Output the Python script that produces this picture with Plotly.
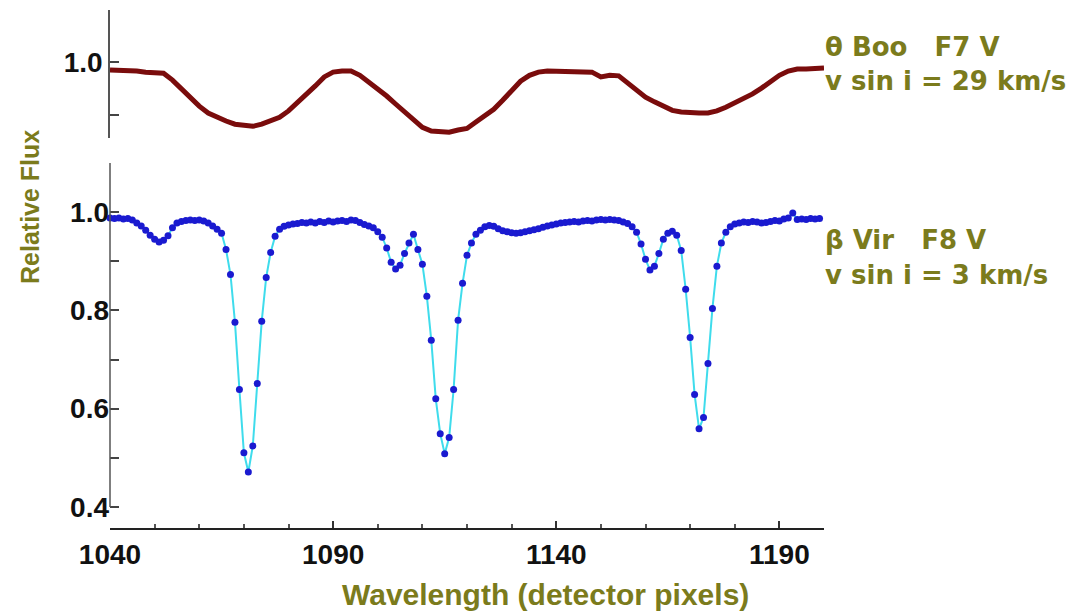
import plotly.graph_objects as go

# ---------------- data ----------------
# theta Boo (F7 V, v sin i = 29 km/s), every 2 detector pixels
boo_x = list(range(1040, 1201, 2))
boo_flux = [
    0.985, 0.985, 0.983, 0.983, 0.981, 0.981, 0.979, 0.966, 0.949, 0.932,
    0.917, 0.904, 0.896, 0.889, 0.883, 0.881, 0.879, 0.883, 0.889, 0.896,
    0.908, 0.923, 0.940, 0.955, 0.972, 0.981, 0.983, 0.983, 0.975, 0.962,
    0.951, 0.936, 0.921, 0.906, 0.891, 0.877, 0.870, 0.870, 0.868, 0.872,
    0.875, 0.887, 0.898, 0.911, 0.928, 0.947, 0.964, 0.975, 0.981, 0.983,
    0.983, 0.981, 0.983, 0.981, 0.981, 0.972, 0.975, 0.974, 0.960, 0.947,
    0.934, 0.925, 0.917, 0.909, 0.906, 0.904, 0.904, 0.904, 0.908, 0.915,
    0.923, 0.930, 0.940, 0.951, 0.964, 0.975, 0.983, 0.987, 0.987, 0.989,
    0.989,
]

# beta Vir (F8 V, v sin i = 3 km/s), every detector pixel
vir_x = list(range(1040, 1200))
vir_flux = [
    0.988, 0.987, 0.988, 0.986, 0.987, 0.984, 0.978, 0.972, 0.963, 0.953,  # 1040
    0.945, 0.939, 0.943, 0.952, 0.968, 0.978, 0.981, 0.983, 0.984, 0.983,  # 1050
    0.984, 0.982, 0.978, 0.972, 0.965, 0.957, 0.924, 0.873, 0.776, 0.639,  # 1060
    0.510, 0.471, 0.524, 0.651, 0.778, 0.867, 0.918, 0.951, 0.965, 0.971,  # 1070
    0.974, 0.976, 0.977, 0.979, 0.978, 0.980, 0.978, 0.981, 0.979, 0.982,  # 1080
    0.980, 0.982, 0.983, 0.981, 0.984, 0.983, 0.979, 0.975, 0.972, 0.968,  # 1090
    0.960, 0.949, 0.927, 0.898, 0.884, 0.892, 0.916, 0.937, 0.955, 0.924,  # 1100
    0.894, 0.829, 0.739, 0.620, 0.549, 0.508, 0.541, 0.639, 0.780, 0.855,  # 1110
    0.912, 0.937, 0.955, 0.963, 0.970, 0.973, 0.971, 0.966, 0.962, 0.960,  # 1120
    0.958, 0.957, 0.958, 0.960, 0.962, 0.964, 0.966, 0.969, 0.972, 0.974,  # 1130
    0.976, 0.978, 0.979, 0.980, 0.981, 0.980, 0.982, 0.983, 0.982, 0.984,  # 1140
    0.985, 0.984, 0.985, 0.984, 0.983, 0.980, 0.977, 0.970, 0.959, 0.935,  # 1150
    0.904, 0.882, 0.890, 0.916, 0.945, 0.957, 0.961, 0.953, 0.922, 0.843,  # 1160
    0.745, 0.629, 0.559, 0.582, 0.692, 0.804, 0.890, 0.937, 0.959, 0.970,  # 1170
    0.976, 0.978, 0.980, 0.979, 0.981, 0.980, 0.978, 0.979, 0.981, 0.983,  # 1180
    0.982, 0.986, 0.988, 0.998, 0.985, 0.986, 0.985, 0.987, 0.986, 0.987,  # 1190
]

bottom_ticks = [0.4, 0.5, 0.6, 0.7, 0.8, 0.9, 1.0]
bottom_ticktext = ["0.4", "", "0.6", "", "0.8", "", "1.0"]
top_ticks = [0.9, 1.0]
top_ticktext = ["", "1.0"]

# ---------------- layout helpers ----------------
W, H = 1082, 615
L, R, T, B = 110, 258, 10, 87
PW, PH = W - L - R, H - T - B


def pxx(x):
    return (x - L) / PW


def pxy(y):
    return (H - B - y) / PH


OLIVE = "#7b7b1c"
TICKFONT = dict(family="Liberation Sans, Arial, sans-serif", size=28, color="#111111", weight="bold")
ANNFONT = dict(family="DejaVu Sans, sans-serif", size=26, color=OLIVE, weight="bold")

fig = go.Figure()
fig.add_trace(go.Scatter(
    x=boo_x, y=boo_flux, mode="lines",
    line=dict(color="#7a0c0c", width=5, shape="linear"),
    xaxis="x", yaxis="y", showlegend=False, hoverinfo="skip",
))
fig.add_trace(go.Scatter(
    x=vir_x, y=vir_flux, mode="lines+markers",
    line=dict(color="#3fdcec", width=2),
    marker=dict(color="#1a1ad0", size=7),
    xaxis="x2", yaxis="y2", showlegend=False, cliponaxis=False, hoverinfo="skip",
))

fig.update_layout(
    width=W, height=H,
    margin=dict(l=L, r=R, t=T, b=B),
    paper_bgcolor="white", plot_bgcolor="white",
    xaxis=dict(domain=[0, 1], anchor="y", range=[1040, 1200], visible=False),
    yaxis=dict(
        domain=[pxy(138), 1], anchor="x", range=[0.857, 1.098],
        tickvals=top_ticks, ticktext=top_ticktext,
        ticks="inside", ticklen=9, tickwidth=1.5, tickcolor="#444",
        showline=True, linecolor="#555", linewidth=1.5,
        showgrid=False, zeroline=False, tickfont=TICKFONT,
    ),
    xaxis2=dict(
        domain=[0, 1], anchor="y2", range=[1040, 1200],
        tick0=1040, dtick=50, ticks="inside", ticklen=7, tickwidth=1.5, tickcolor="#333",
        minor=dict(tick0=1040, dtick=10, ticks="inside", ticklen=4, tickcolor="#555", showgrid=False),
        showline=True, linecolor="#222", linewidth=2,
        showgrid=False, zeroline=False, tickfont=TICKFONT,
    ),
    yaxis2=dict(
        domain=[0, pxy(163)], anchor="x2", range=[0.357, 1.10],
        tickvals=bottom_ticks, ticktext=bottom_ticktext,
        ticks="inside", ticklen=9, tickwidth=1.5, tickcolor="#444",
        showline=False, showgrid=False, zeroline=False, tickfont=TICKFONT,
    ),
    shapes=[dict(
        type="line", xref="x2 domain", yref="y2",
        x0=0, x1=0, y0=0.4, y1=1.10,
        line=dict(color="#555", width=1.5),
    )],
)

NB = "\u00a0"
annotations = [
    dict(text="Wavelength (detector pixels)", x=pxx(545), y=pxy(594),
         font=dict(family="Liberation Sans, Arial, sans-serif", size=30, color=OLIVE, weight="bold")),
    dict(text="Relative Flux", x=pxx(30), y=pxy(207), textangle=-90,
         font=dict(family="Liberation Sans, Arial, sans-serif", size=25, color=OLIVE, weight="bold")),
    dict(text="θ Boo" + NB * 3 + "F7 V", x=pxx(823), y=pxy(47), xanchor="left", font=ANNFONT),
    dict(text="v sin i = 29 km/s", x=pxx(823), y=pxy(81), xanchor="left", font=ANNFONT),
    dict(text="β Vir" + NB * 3 + "F8 V", x=pxx(823), y=pxy(240), xanchor="left", font=ANNFONT),
    dict(text="v sin i = 3 km/s", x=pxx(823), y=pxy(275), xanchor="left", font=ANNFONT),
]
for a in annotations:
    a.setdefault("xanchor", "center")
    a.update(xref="paper", yref="paper", yanchor="middle", showarrow=False)
fig.update_layout(annotations=annotations)

fig.write_html("out.html")
